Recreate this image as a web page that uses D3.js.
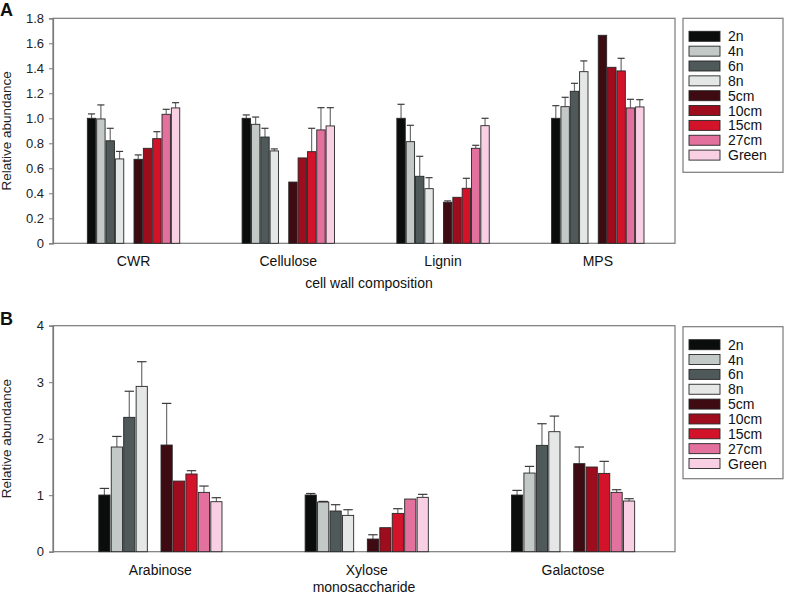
<!DOCTYPE html>
<html>
<head>
<meta charset="utf-8">
<script src="https://cdn.jsdelivr.net/npm/d3@7"></script>
<style>
  html, body { margin: 0; padding: 0; background: #fff; }
  svg { display: block; font-family: "Liberation Sans", Arial, sans-serif; }
</style>
</head>
<body>
<svg id="chart" width="785" height="594"></svg>
<script>
// ---------- data ----------
const seriesNames = ["2n", "4n", "6n", "8n", "5cm", "10cm", "15cm", "27cm", "Green"];
const seriesColors = ["#0b0d0c", "#c3c9c7", "#4f595a", "#e4e7e6", "#3e0b13", "#9e0d1d", "#d2132a", "#e2719d", "#f9d0e3"];

// Panel A: cell wall composition
const categoriesA = ["CWR", "Cellulose", "Lignin", "MPS"];
const cwrValues       = [1.0, 0.995, 0.82, 0.675, 0.672, 0.76, 0.837, 1.032, 1.083];
const cwrErrors       = [0.035, 0.112, 0.10, 0.06, 0.035, 0, 0.056, 0.04, 0.042];
const celluloseValues = [1.0, 0.952, 0.85, 0.739, 0.49, 0.683, 0.733, 0.907, 0.939];
const celluloseErrors = [0.027, 0.058, 0.07, 0.016, 0, 0, 0.187, 0.178, 0.146];
const ligninValues    = [1.0, 0.813, 0.536, 0.437, 0.328, 0.368, 0.44, 0.76, 0.941];
const ligninErrors    = [0.112, 0.131, 0.16, 0.088, 0.011, 0, 0.08, 0.024, 0.059];
const mpsValues       = [1.0, 1.093, 1.216, 1.373, 1.664, 1.408, 1.379, 1.083, 1.091];
const mpsErrors       = [0.101, 0.075, 0.064, 0.086, 0, 0, 0.101, 0.069, 0.058];
const ticksA = [0, 0.2, 0.4, 0.6, 0.8, 1.0, 1.2, 1.4, 1.6, 1.8];

// Panel B: monosaccharide
const categoriesB = ["Arabinose", "Xylose", "Galactose"];
const arabinoseValues = [1.003, 1.853, 2.378, 2.926, 1.888, 1.25, 1.375, 1.05, 0.885];
const arabinoseErrors = [0.117, 0.187, 0.462, 0.437, 0.737, 0, 0.059, 0.112, 0.071];
const xyloseValues    = [1.003, 0.879, 0.72, 0.643, 0.224, 0.425, 0.678, 0.932, 0.962];
const xyloseErrors    = [0.027, 0.011, 0.112, 0.10, 0.076, 0, 0.083, 0, 0.053];
const galactoseValues = [1.003, 1.392, 1.882, 2.124, 1.558, 1.499, 1.386, 1.05, 0.897];
const galactoseErrors = [0.082, 0.118, 0.383, 0.276, 0.295, 0, 0.213, 0.047, 0.041];
const ticksB = [0, 1, 2, 3, 4];

// ---------- drawing ----------
const svg = d3.select("#chart");
const slotKeys = ["2n", "4n", "6n", "8n", "_gap", "5cm", "10cm", "15cm", "27cm", "Green"];

function panel(cfg) {
  const g = svg.append("g");
  const left = 53, right = 675, top = cfg.top, bottom = cfg.bottom;
  const y = d3.scaleLinear().domain([0, cfg.ymax]).range([bottom, top]);
  const x0 = d3.scaleBand().domain(cfg.categories).range([left, 672]).padding(0);
  const bw = x0.bandwidth();
  const x1 = d3.scaleBand().domain(slotKeys).range([0.222 * bw, 0.819 * bw]).paddingInner(0.1).paddingOuter(0);
  const color = d3.scaleOrdinal().domain(seriesNames).range(seriesColors);

  // frame
  g.append("rect").attr("x", left).attr("y", top).attr("width", right - left).attr("height", bottom - top)
    .attr("fill", "none").attr("stroke", "#7a7a7a").attr("stroke-width", 1.2);

  // y axis
  const yAxis = d3.axisLeft(y).tickValues(cfg.ticks).tickSize(4).tickPadding(5)
    .tickFormat(cfg.tickFormat);
  const ya = g.append("g").attr("transform", `translate(${left},0)`).call(yAxis);
  ya.select(".domain").attr("stroke", "#7a7a7a").attr("stroke-width", 1.2);
  ya.selectAll(".tick line").attr("stroke", "#7a7a7a");
  ya.selectAll(".tick text").attr("font-size", 13).attr("fill", "#222")
    .attr("font-family", "'Liberation Sans', Arial, sans-serif");

  // bars
  cfg.categories.forEach((cat, ci) => {
    const vals = cfg.values[ci], errs = cfg.errors[ci];
    const cg = g.append("g").attr("transform", `translate(${x0(cat)},0)`);
    const data = seriesNames.map((s, i) => ({ s, v: vals[i], e: errs[i] }));
    const bwid = x1.bandwidth();
    // error bars (upper only)
    const eb = cg.selectAll("g.err").data(data.filter(d => d.e > 0)).enter().append("g");
    eb.append("line")
      .attr("x1", d => x1(d.s) + bwid / 2).attr("x2", d => x1(d.s) + bwid / 2)
      .attr("y1", d => y(d.v)).attr("y2", d => y(d.v + d.e))
      .attr("stroke", "#6e6e6e").attr("stroke-width", 1.2);
    eb.append("line")
      .attr("x1", d => x1(d.s) + bwid * 0.08).attr("x2", d => x1(d.s) + bwid * 0.92)
      .attr("y1", d => y(d.v + d.e)).attr("y2", d => y(d.v + d.e))
      .attr("stroke", "#3a3a3a").attr("stroke-width", 1.2);
    cg.selectAll("rect.bar").data(data).enter().append("rect")
      .attr("x", d => x1(d.s)).attr("width", bwid)
      .attr("y", d => y(d.v)).attr("height", d => y(0) - y(d.v))
      .attr("fill", d => color(d.s)).attr("stroke", "#262626").attr("stroke-width", 0.9);
    // category label
    g.append("text").attr("x", x0(cat) + (x1("2n") + x1("Green") + bwid) / 2)
      .attr("y", cfg.catY).attr("text-anchor", "middle").attr("font-size", 14).attr("fill", "#111")
      .text(cat);
  });

  // x axis title
  g.append("text").attr("x", (left + right) / 2 + cfg.titleDx).attr("y", cfg.titleY)
    .attr("text-anchor", "middle").attr("font-size", 14).attr("fill", "#111").text(cfg.xTitle);

  // y axis title
  g.append("text").attr("transform", `translate(11,${(top + bottom) / 2}) rotate(-90)`)
    .attr("text-anchor", "middle").attr("font-size", 13.5).attr("fill", "#222").text("Relative abundance");

  // panel letter
  g.append("text").attr("x", 0).attr("y", cfg.letterY).attr("font-size", 18).attr("font-weight", "bold")
    .attr("fill", "#111").text(cfg.letter);

  // legend
  const lx = 683, ly = cfg.legendTop;
  const lg = g.append("g");
  lg.append("rect").attr("x", lx).attr("y", ly).attr("width", 100).attr("height", cfg.legendH)
    .attr("fill", "#fff").attr("stroke", "#7a7a7a").attr("stroke-width", 1.2);
  const rows = lg.selectAll("g.row").data(seriesNames).enter().append("g")
    .attr("transform", (d, i) => `translate(0,${ly + 18 + i * 14.85})`);
  rows.append("rect").attr("x", 689).attr("y", -5).attr("width", 31).attr("height", 10)
    .attr("fill", d => color(d)).attr("stroke", "#262626").attr("stroke-width", 0.9);
  rows.append("text").attr("x", 728).attr("y", 5).attr("font-size", 14).attr("fill", "#111").text(d => d);
}

panel({
  letter: "A", letterY: 16,
  top: 18.3, bottom: 243.3, ymax: 1.8, ticks: ticksA,
  tickFormat: d => d === 0 ? "0" : d3.format(".1f")(d),
  categories: categoriesA,
  values: [cwrValues, celluloseValues, ligninValues, mpsValues],
  errors: [cwrErrors, celluloseErrors, ligninErrors, mpsErrors],
  catY: 266, xTitle: "cell wall composition", titleY: 288, titleDx: 5,
  legendTop: 18.3, legendH: 154
});

panel({
  letter: "B", letterY: 325,
  top: 325.7, bottom: 551.7, ymax: 4, ticks: ticksB,
  tickFormat: d3.format("d"),
  categories: categoriesB,
  values: [arabinoseValues, xyloseValues, galactoseValues],
  errors: [arabinoseErrors, xyloseErrors, galactoseErrors],
  catY: 575, xTitle: "monosaccharide", titleY: 592, titleDx: 0,
  legendTop: 326.7, legendH: 152
});
</script>
</body>
</html>
